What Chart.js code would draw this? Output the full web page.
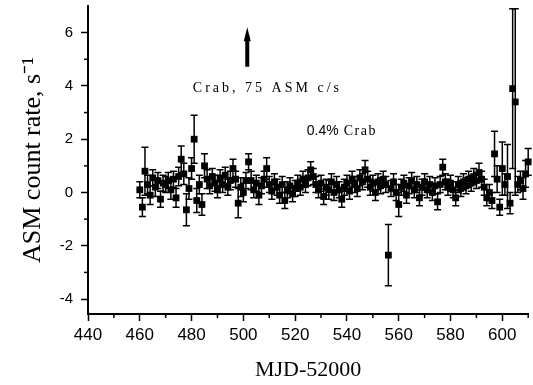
<!DOCTYPE html>
<html lang="en">
<head>
  <meta charset="UTF-8" />
  <title>ASM count rate</title>
  <script src="https://cdn.jsdelivr.net/npm/chart.js"></script>
  <style>
    body { margin: 0; background: #fff; }
    canvas { display: block; }
  </style>
</head>
<body>
  <canvas id="chartCanvas" width="533" height="385"></canvas>

  <script>
    // MJD-52000, ASM rate (c/s), 1-sigma error
    const mjd = [
      460, 461, 462, 463, 464, 465, 466, 467, 468, 469,
      470, 471, 472, 473, 474, 475, 476, 477, 478, 479,
      480, 481, 482, 483, 484, 485, 486, 487, 488, 489,
      490, 491, 492, 493, 494, 495, 496, 497, 498, 499,
      500, 501, 502, 503, 504, 505, 506, 507, 508, 509,
      510, 511, 512, 513, 514, 515, 516, 517, 518, 519,
      520, 521, 522, 523, 524, 525, 526, 527, 528, 529,
      530, 531, 532, 533, 534, 535, 536, 537, 538, 539,
      540, 541, 542, 543, 544, 545, 546, 547, 548, 549,
      550, 551, 552, 553, 554, 555, 556, 557, 558, 559,
      560, 561, 562, 563, 564, 565, 566, 567, 568, 569,
      570, 571, 572, 573, 574, 575, 576, 577, 578, 579,
      580, 581, 582, 583, 584, 585, 586, 587, 588, 589,
      590, 591, 592, 593, 594, 595, 596, 597, 598, 599,
      600, 601, 602, 603, 604, 605, 606, 607, 608, 609, 610
    ];
    const rate = [
      0.1, -0.55, 0.8, 0.3, -0.1, 0.55, 0.2, 0.45, -0.25, 0.35,
      0.3, 0.45, 0.1, 0.5, -0.2, 0.6, 1.25, 0.7, -0.65, 0.15,
      0.9, 2.0, -0.3, 0.3, -0.45, 1.0, 0.5, 0.25, 0.6, 0.35,
      0.1, 0.55, 0.3, 0.65, 0.2, 0.45, 0.9, 0.5, -0.4, 0.2,
      0.0, 0.45, 1.15, 0.45, 0.1, 0.35, -0.1, 0.25, 0.5, 0.9,
      0.3, 0.05, 0.4, 0.2, -0.1, 0.3, -0.3, 0.1, 0.25, -0.05,
      0.15, 0.35, 0.2, 0.5, 0.3, 0.55, 0.85, 0.6, 0.3, 0.1,
      0.35, -0.15, 0.2, 0.1, 0.4, 0.0, 0.3, 0.1, -0.25, 0.2,
      0.35, 0.05, 0.5, 0.3, 0.15, 0.55, 0.4, 0.85, 0.5, 0.2,
      0.35, 0.0, 0.4, 0.25, 0.5, 0.3, -2.35, 0.15, 0.4, 0.0,
      -0.45, 0.2, 0.35, -0.1, 0.25, 0.45, 0.1, 0.3, -0.2, 0.2,
      0.4, 0.1, 0.3, 0.0, 0.25, -0.35, 0.3, 0.95, 0.4, 0.2,
      0.35, 0.1, -0.2, 0.3, 0.15, 0.4, 0.25, 0.5, 0.35, 0.6,
      0.45, 0.75, 0.5, 0.2, -0.2, 0.0, -0.3, 1.45, 0.5, -0.55,
      0.9, 0.3, 0.6, -0.4, 3.9, 3.4, 0.3, 0.45, 0.15, 0.7, 1.15
    ];
    const rateErr = [
      0.3, 0.35, 0.9, 0.35, 0.35, 0.3, 0.35, 0.3, 0.3, 0.3,
      0.3, 0.3, 0.35, 0.3, 0.35, 0.35, 0.5, 0.4, 0.6, 0.4,
      0.4, 0.9, 0.45, 0.35, 0.4, 0.45, 0.35, 0.3, 0.3, 0.3,
      0.3, 0.3, 0.3, 0.3, 0.3, 0.35, 0.35, 0.3, 0.55, 0.35,
      0.35, 0.3, 0.3, 0.35, 0.3, 0.3, 0.35, 0.3, 0.3, 0.4,
      0.3, 0.3, 0.3, 0.3, 0.3, 0.3, 0.3, 0.3, 0.3, 0.3,
      0.3, 0.3, 0.3, 0.3, 0.3, 0.3, 0.3, 0.3, 0.3, 0.3,
      0.3, 0.3, 0.3, 0.35, 0.3, 0.3, 0.3, 0.3, 0.3, 0.3,
      0.3, 0.3, 0.3, 0.3, 0.3, 0.3, 0.3, 0.35, 0.3, 0.3,
      0.3, 0.3, 0.3, 0.3, 0.3, 0.3, 1.15, 0.3, 0.3, 0.3,
      0.45, 0.3, 0.3, 0.3, 0.3, 0.3, 0.3, 0.3, 0.3, 0.3,
      0.3, 0.3, 0.3, 0.3, 0.3, 0.3, 0.3, 0.3, 0.3, 0.3,
      0.3, 0.3, 0.3, 0.3, 0.3, 0.3, 0.3, 0.3, 0.3, 0.3,
      0.3, 0.35, 0.3, 0.3, 0.3, 0.3, 0.3, 0.85, 0.5, 0.3,
      1.0, 0.4, 1.2, 0.4, 3.0, 3.5, 0.3, 0.35, 0.4, 0.5, 0.5
    ];

    const xTicksMinor = [450, 470, 490, 510, 530, 550, 570, 590, 610];
    const yTicksMinor = [-3, -1, 1, 3, 5];

    const serif = '"Liberation Serif", "Times New Roman", serif';
    const sans = '"Liberation Sans", Arial, sans-serif';

    // error bars under the squares
    const errorBars = {
      id: 'errorBars',
      beforeDatasetsDraw(chart) {
        const { ctx, scales: { x, y } } = chart;
        ctx.save();
        ctx.strokeStyle = '#000';
        ctx.lineWidth = 1.5;
        mjd.forEach((m, i) => {
          const px = x.getPixelForValue(m);
          const top = y.getPixelForValue(rate[i] + rateErr[i]);
          const bot = y.getPixelForValue(rate[i] - rateErr[i]);
          ctx.beginPath();
          ctx.moveTo(px, top); ctx.lineTo(px, bot);
          ctx.moveTo(px - 3.5, top); ctx.lineTo(px + 3.5, top);
          ctx.moveTo(px - 3.5, bot); ctx.lineTo(px + 3.5, bot);
          ctx.stroke();
        });
        ctx.restore();
      }
    };

    // minor ticks, arrow and the two notes
    const extras = {
      id: 'extras',
      afterDraw(chart) {
        const { ctx, scales: { x, y }, chartArea } = chart;
        ctx.save();
        ctx.strokeStyle = '#000';
        ctx.fillStyle = '#000';
        ctx.lineWidth = 1.5;
        xTicksMinor.forEach(v => {
          const px = x.getPixelForValue(v);
          if (px > chartArea.right) return;
          ctx.beginPath();
          ctx.moveTo(px, chartArea.bottom); ctx.lineTo(px, chartArea.bottom + 4);
          ctx.stroke();
        });
        yTicksMinor.forEach(v => {
          const py = y.getPixelForValue(v);
          ctx.beginPath();
          ctx.moveTo(chartArea.left, py); ctx.lineTo(chartArea.left - 4, py);
          ctx.stroke();
        });

        // arrow
        const ax = x.getPixelForValue(501.5);
        const aTop = y.getPixelForValue(6.2);
        const aBot = y.getPixelForValue(4.72);
        ctx.lineWidth = 4;
        ctx.beginPath();
        ctx.moveTo(ax, aBot); ctx.lineTo(ax, aTop + 8);
        ctx.stroke();
        ctx.beginPath();
        ctx.moveTo(ax, aTop);
        ctx.lineTo(ax - 3.5, aTop + 14);
        ctx.lineTo(ax + 3.5, aTop + 14);
        ctx.closePath();
        ctx.fill();

        ctx.textBaseline = 'middle';
        ctx.letterSpacing = '3px';
        ctx.font = '14px ' + serif;
        ctx.fillText('Crab, 75 ASM c/s', x.getPixelForValue(480.5), y.getPixelForValue(3.9));

        const nx = x.getPixelForValue(524.5);
        const ny = y.getPixelForValue(2.3);
        ctx.letterSpacing = '0px';
        ctx.font = '14px ' + sans;
        ctx.fillText('0.4%', nx, ny);
        const w = ctx.measureText('0.4%').width;
        ctx.letterSpacing = '1.5px';
        ctx.font = '14px ' + serif;
        ctx.fillText(' Crab', nx + w, ny);
        ctx.restore();
      }
    };

    const ctx = document.getElementById('chartCanvas').getContext('2d');
    const chart = new Chart(ctx, {
      type: 'scatter',
      data: {
        datasets: [{
          data: mjd.map((m, i) => ({ x: m, y: rate[i] })),
          pointStyle: 'rect',
          pointRadius: 4.8,
          pointBackgroundColor: '#000',
          pointBorderColor: '#000',
          pointBorderWidth: 0,
          clip: false
        }]
      },
      options: {
        responsive: false,
        animation: false,
        events: [],
        layout: { padding: { top: 6, right: 0, bottom: 0, left: 0 } },
        plugins: { legend: { display: false }, tooltip: { enabled: false } },
        scales: {
          x: {
            type: 'linear',
            min: 440,
            max: 610,
            border: { color: '#000', width: 2 },
            grid: { drawOnChartArea: false, tickLength: 7, tickColor: '#000', tickWidth: 1.5 },
            ticks: {
              stepSize: 20, includeBounds: false, padding: 4, color: '#000',
              font: { family: sans, size: 17 }
            },
            title: {
              display: true, text: 'MJD-52000', color: '#000',
              font: { family: serif, size: 22 }, padding: { top: 0, bottom: 2 }
            },
            afterFit(s) { s.height = 71; s.paddingLeft = 0; s.paddingRight = 0; }
          },
          y: {
            min: -4.56,
            max: 7,
            border: { color: '#000', width: 2 },
            grid: { drawOnChartArea: false, tickLength: 7, tickColor: '#000', tickWidth: 1.5 },
            ticks: {
              stepSize: 2, includeBounds: false, padding: 8, color: '#000',
              font: { family: sans, size: 15 }
            },
            title: {
              display: true, text: 'ASM count rate, s\u207B\u00B9', color: '#000',
              font: { family: serif, size: 26 }, padding: { top: 18, bottom: 0 }
            },
            afterFit(s) { s.width = 88; s.paddingTop = 0; s.paddingBottom = 0; }
          }
        }
      },
      plugins: [errorBars, extras]
    });
  </script>
</body>
</html>
